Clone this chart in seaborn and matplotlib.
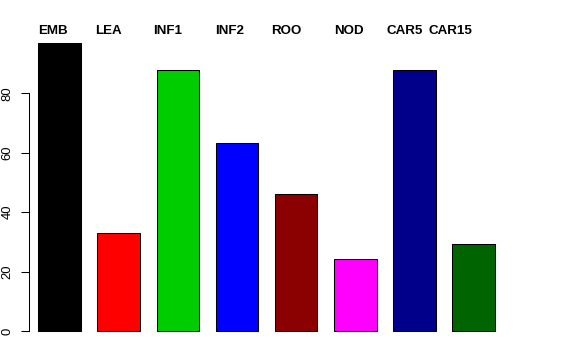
import matplotlib
matplotlib.use('Agg')
import matplotlib.pyplot as plt
import seaborn as sns

# stage names, bar heights and fill colours
STAGES = ['EMB', 'LEA', 'INF1', 'INF2', 'ROO', 'NOD', 'CAR5', 'CAR15']
VALUES = [97.0, 32.9, 87.9, 63.2, 46.0, 24.2, 88.0, 29.3]
COLORS = ['#000000', '#FF0000', '#00CD00', '#0000FF',
          '#8B0000', '#FF00FF', '#00008B', '#006400']
Y_TICKS = [0, 20, 40, 60, 80]
# label centres (category units) - labels drift slightly left of the bars
LABEL_X = [-0.11, 0.83, 1.82, 2.87, 3.84, 4.89, 5.83, 6.61]

sns.set_theme(style='white')
plt.rcParams['font.family'] = ['Liberation Sans', 'DejaVu Sans']
plt.rcParams['text.color'] = 'black'
plt.rcParams['ytick.color'] = 'black'
plt.rcParams['ytick.labelcolor'] = 'black'

fig = plt.figure(figsize=(5.76, 3.6), dpi=100)
ax = fig.add_axes([29 / 576, 17.1 / 360, 518 / 576, 312 / 360])

sns.barplot(x=STAGES, y=VALUES, hue=STAGES, palette=COLORS, width=0.717,
            edgecolor='black', linewidth=0.75, saturation=1, legend=False, ax=ax)

ax.set_xlim(-0.515, 8.239)
ax.set_ylim(-4, 101)
ax.set_xticks([])
ax.set_yticks(Y_TICKS)
ax.set_yticklabels([str(t) for t in Y_TICKS])
ax.tick_params(axis='y', length=6, width=0.75, pad=5, labelsize=9.4,
               labelrotation=90, colors='black', labelcolor='black', left=True)
for t in ax.get_yticklabels():
    t.set_va('center')

for side in ['top', 'right', 'bottom']:
    ax.spines[side].set_visible(False)
ax.spines['left'].set_bounds(0, 80)
ax.spines['left'].set_linewidth(0.75)
ax.spines['left'].set_color('black')

for x, name in zip(LABEL_X, STAGES):
    ax.text(x, 100, name, ha='center', va='baseline', fontsize=9.6,
            fontweight='bold', color='black', clip_on=False)

fig.savefig('out.png', dpi=100)
